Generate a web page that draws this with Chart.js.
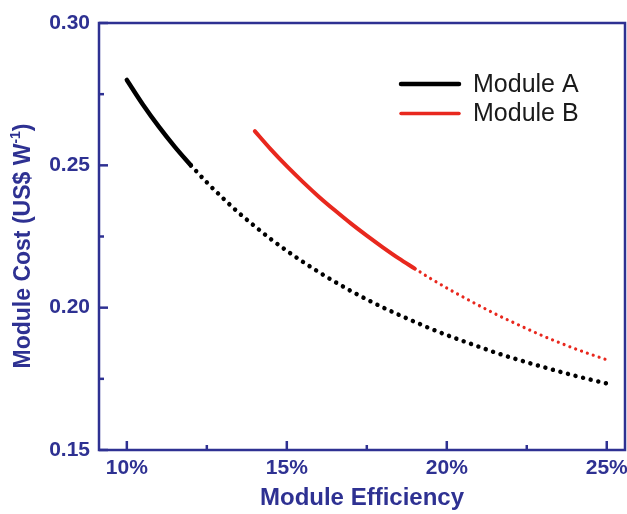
<!DOCTYPE html>
<html><head><meta charset="utf-8">
<script src="https://cdn.jsdelivr.net/npm/chart.js@4.4.1/dist/chart.umd.min.js"></script>
<style>html,body{margin:0;padding:0;background:#fff;} canvas{display:block;}</style>
</head><body>
<canvas id="c" width="627" height="514"></canvas>
<script>
// ---- data ----
const effASolid  = [10, 10.5, 11, 11.5, 12];
const costASolid = [0.2800, 0.2714, 0.2636, 0.2565, 0.2500];
const effADotted  = [12, 12.5, 13, 13.5, 14, 14.5, 15, 15.5, 16, 16.5, 17, 17.5, 18, 18.5, 19, 19.5, 20, 20.5, 21, 21.5, 22, 22.5, 23, 23.5, 24, 24.5, 25];
const costADotted = [0.2500, 0.2440, 0.2385, 0.2333, 0.2286, 0.2241, 0.2200, 0.2161, 0.2125, 0.2091, 0.2059, 0.2029, 0.2001, 0.1975, 0.1950, 0.1926, 0.1904, 0.1883, 0.1863, 0.1843, 0.1825, 0.1808, 0.1792, 0.1776, 0.1761, 0.1747, 0.1734];
const effBSolid  = [14, 14.5, 15, 15.5, 16, 16.5, 17, 17.5, 18, 18.5, 19];
const costBSolid = [0.2620, 0.2556, 0.2497, 0.2442, 0.2390, 0.2342, 0.2296, 0.2253, 0.2212, 0.2173, 0.2137];
const effBDotted  = [19, 19.5, 20, 20.5, 21, 21.5, 22, 22.5, 23, 23.5, 24, 24.5, 25];
const costBDotted = [0.2137, 0.2102, 0.2069, 0.2038, 0.2008, 0.1979, 0.1952, 0.1926, 0.1901, 0.1878, 0.1856, 0.1836, 0.1817];
const xTickValues = [10, 15, 20, 25];
const xMinorTicks = [12.5, 17.5, 22.5];
const yTickValues = [0.15, 0.20, 0.25, 0.30];
const yMinorTicks = [0.175, 0.225, 0.275];
const legendLabels = ['Module A', 'Module B'];
const xTitle = 'Module Efficiency';
const yTitleMain = 'Module Cost (US$ W';
const yTitleSup = '-1';
const yTitleEnd = ')';

const NAVY = '#2E3192';
const RED = '#E8281E';
const FONT = '"Liberation Sans", Arial, Helvetica, sans-serif';
Chart.defaults.font.family = FONT;

function pts(xs, ys) { return xs.map((x, i) => ({x: x, y: ys[i]})); }

const framePlugin = {
  id: 'frame',
  afterDatasetsDraw(chart) {
    const {ctx, chartArea: a, scales: {x, y}} = chart;
    ctx.save();
    ctx.strokeStyle = NAVY;
    ctx.lineWidth = 2.5;
    ctx.strokeRect(a.left, a.top, a.right - a.left, a.bottom - a.top);
    ctx.lineCap = 'butt';
    const tick = (x1, y1, x2, y2) => { ctx.beginPath(); ctx.moveTo(x1, y1); ctx.lineTo(x2, y2); ctx.stroke(); };
    xTickValues.forEach(v => { const p = x.getPixelForValue(v); tick(p, a.bottom, p, a.bottom - 9); });
    xMinorTicks.forEach(v => { const p = x.getPixelForValue(v); tick(p, a.bottom, p, a.bottom - 5); });
    yTickValues.forEach(v => { const p = y.getPixelForValue(v); tick(a.left, p, a.left + 9, p); });
    yMinorTicks.forEach(v => { const p = y.getPixelForValue(v); tick(a.left, p, a.left + 5, p); });
    ctx.restore();
  },
  afterDraw(chart) {
    const {ctx, chartArea: a} = chart;
    ctx.save();
    // legend
    const legendColors = [chart.data.datasets[0].borderColor, chart.data.datasets[2].borderColor];
    const legendWidths = [4.5, 3.5];
    ctx.font = '25px ' + FONT;
    ctx.textBaseline = 'middle';
    legendLabels.forEach((lab, i) => {
      const yy = a.top + 61 + i * 29.5;
      ctx.strokeStyle = legendColors[i];
      ctx.lineWidth = legendWidths[i];
      ctx.lineCap = 'round';
      ctx.beginPath(); ctx.moveTo(a.left + 302, yy); ctx.lineTo(a.left + 360, yy); ctx.stroke();
      ctx.fillStyle = '#1a1a1a';
      ctx.textAlign = 'left';
      ctx.fillText(lab, a.left + 374, yy + 1);
    });
    // y title with superscript
    const mainFont = 'bold 23px ' + FONT;
    const supFont = 'bold 14px ' + FONT;
    ctx.font = mainFont;
    const w1 = ctx.measureText(yTitleMain).width;
    const w3 = ctx.measureText(yTitleEnd).width;
    ctx.font = supFont;
    const w2 = ctx.measureText(yTitleSup).width;
    const total = w1 + w2 + w3;
    ctx.translate(24, 246);
    ctx.rotate(-Math.PI / 2);
    ctx.fillStyle = NAVY;
    ctx.textAlign = 'left';
    ctx.textBaseline = 'middle';
    let sx = -total / 2;
    ctx.font = mainFont; ctx.fillText(yTitleMain, sx, 0); sx += w1;
    ctx.font = supFont; ctx.fillText(yTitleSup, sx, -8); sx += w2;
    ctx.font = mainFont; ctx.fillText(yTitleEnd, sx, 0);
    ctx.restore();
  }
};

new Chart(document.getElementById('c'), {
  type: 'line',
  data: {
    datasets: [
      {label: 'Module A', data: pts(effASolid, costASolid), borderColor: '#000000', borderWidth: 4.5, borderCapStyle: 'round', pointRadius: 0, cubicInterpolationMode: 'monotone'},
      {label: 'Module A (projected)', data: pts(effADotted, costADotted), borderColor: '#000000', borderWidth: 4.5, borderDash: [0.01, 7.8], borderCapStyle: 'round', pointRadius: 0, cubicInterpolationMode: 'monotone'},
      {label: 'Module B', data: pts(effBSolid, costBSolid), borderColor: RED, borderWidth: 4, borderCapStyle: 'round', pointRadius: 0, cubicInterpolationMode: 'monotone'},
      {label: 'Module B (projected)', data: pts(effBDotted, costBDotted), borderColor: RED, borderWidth: 3.2, borderDash: [0.01, 6.2], borderCapStyle: 'round', pointRadius: 0, cubicInterpolationMode: 'monotone'}
    ]
  },
  options: {
    responsive: false,
    animation: false,
    devicePixelRatio: 1,
    layout: {padding: {left: 0, top: 23, right: 2, bottom: 0}},
    plugins: {legend: {display: false}, tooltip: {enabled: false}},
    scales: {
      x: {
        type: 'linear', min: 9.13, max: 25.57,
        grid: {display: false, drawTicks: false},
        border: {display: false},
        afterBuildTicks: s => { s.ticks = xTickValues.map(v => ({value: v})); },
        afterFit: s => { s.height = 64; s.paddingLeft = 0; s.paddingRight = 0; },
        ticks: {color: NAVY, font: {size: 21, weight: 'bold'}, padding: 6, maxRotation: 0, callback: v => v + '%'},
        title: {display: true, text: xTitle, color: NAVY, font: {size: 24, weight: 'bold'}, padding: {top: 0, bottom: 1}}
      },
      y: {
        type: 'linear', min: 0.15, max: 0.30,
        grid: {display: false, drawTicks: false},
        border: {display: false},
        afterBuildTicks: s => { s.ticks = yTickValues.map(v => ({value: v})); },
        afterFit: s => { s.width = 99; s.paddingTop = 0; s.paddingBottom = 0; },
        ticks: {color: NAVY, font: {size: 21, weight: 'bold'}, padding: 9, callback: v => Number(v).toFixed(2)}
      }
    }
  },
  plugins: [framePlugin]
});
</script></body></html>
